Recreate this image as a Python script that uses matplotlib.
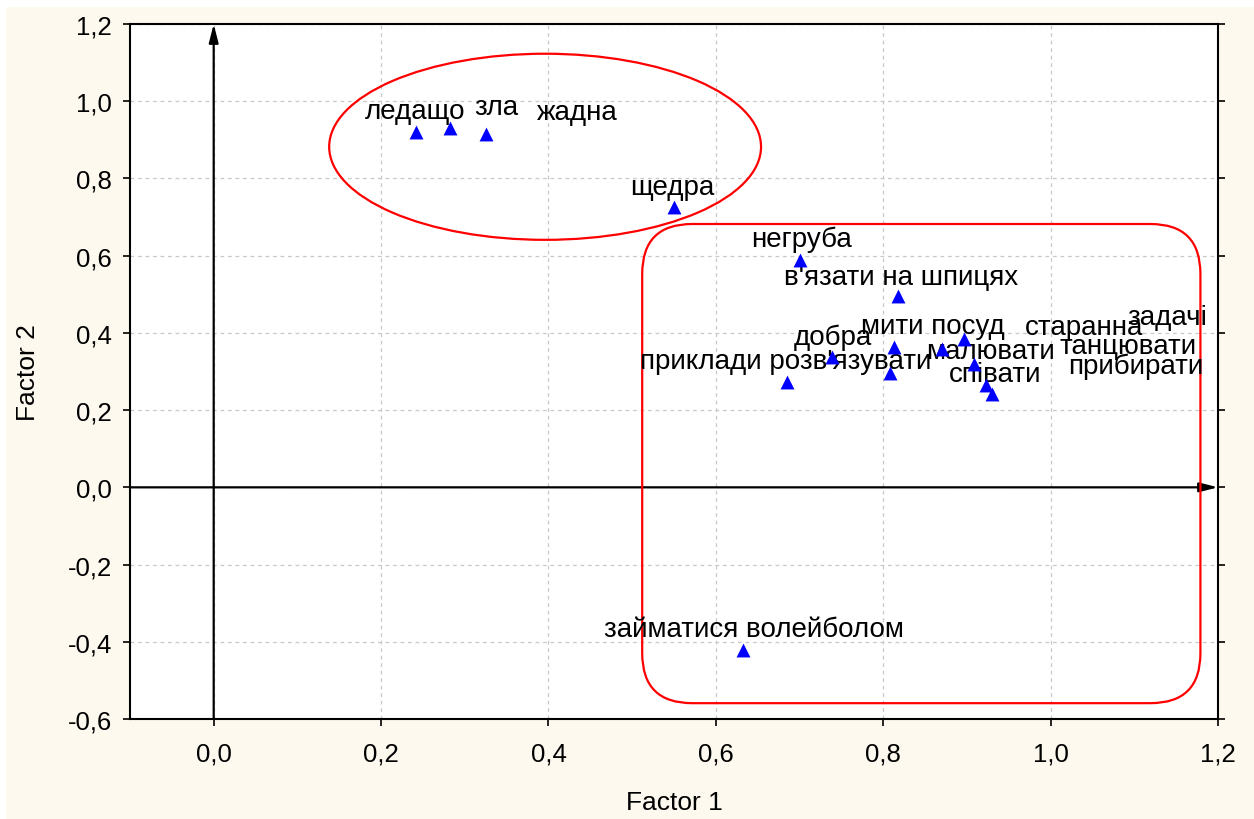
import matplotlib.pyplot as plt
from matplotlib.patches import Ellipse, FancyBboxPatch, Rectangle

plt.rcParams['font.family'] = ['Liberation Sans', 'DejaVu Sans']

# factor loadings (Factor 1, Factor 2) for each item
factor1 = [0.242, 0.282, 0.325, 0.550, 0.700, 0.818, 0.739, 0.813,
           0.685, 0.808, 0.870, 0.896, 0.909, 0.923, 0.930, 0.632]
factor2 = [0.920, 0.930, 0.915, 0.725, 0.590, 0.495, 0.338, 0.364,
           0.273, 0.296, 0.358, 0.384, 0.320, 0.264, 0.243, -0.421]

# labels and where they sit in the chart (data units, centred)
labels = ['ледащо', 'зла', 'жадна', 'щедра', 'негруба', 'в\'язати на шпицях',
          'добра', 'мити посуд', 'приклади розв\'язувати', 'малювати', 'співати',
          'старанна', 'задачі', 'танцювати', 'прибирати', 'займатися волейболом']
label_x = [0.241, 0.338, 0.435, 0.548, 0.702, 0.821, 0.740, 0.859,
           0.684, 0.928, 0.934, 1.040, 1.139, 1.093, 1.102, 0.646]
label_y = [0.975, 0.985, 0.972, 0.778, 0.643, 0.545, 0.390, 0.418,
           0.327, 0.353, 0.294, 0.416, 0.441, 0.366, 0.315, -0.367]

xticks = [0.0, 0.2, 0.4, 0.6, 0.8, 1.0, 1.2]
yticks = [-0.6, -0.4, -0.2, 0.0, 0.2, 0.4, 0.6, 0.8, 1.0, 1.2]

W, H = 1254, 820
fig = plt.figure(figsize=(W / 100, H / 100), dpi=100, facecolor='white')
fig.patches.append(Rectangle((6 / W, 0), 1, 1 - 8 / H, transform=fig.transFigure,
                             facecolor='#fdf9ee', edgecolor='none', zorder=-10))
ax = fig.add_axes([130 / W, 1 - 720 / H, 1088 / W, 695 / H])
ax.set_facecolor('white')
ax.set_xlim(-0.1, 1.2)
ax.set_ylim(-0.6, 1.2)

ax.set_xticks(xticks)
ax.set_yticks(yticks)
ax.set_xticklabels([f'{t:.1f}'.replace('.', ',') for t in xticks])
ax.set_yticklabels([f'{t:.1f}'.replace('.', ',') for t in yticks])
ax.tick_params(labelsize=18.5, length=5, width=1.2, pad=11)
ax.tick_params(axis='y', right=True, pad=8)
ax.grid(True, color='#c8c8c8', linestyle=(0, (3, 3)), linewidth=0.9)
for s in ax.spines.values():
    s.set_linewidth(1.5)
    s.set_color('black')

# axis arrows
ax.annotate('', xy=(1.2, 0), xytext=(-0.1, 0),
            arrowprops=dict(arrowstyle='-|>,head_length=1.1,head_width=0.28',
                            color='black', lw=1.6, shrinkA=0, shrinkB=0))
ax.annotate('', xy=(0, 1.2), xytext=(0, -0.6),
            arrowprops=dict(arrowstyle='-|>,head_length=1.1,head_width=0.28',
                            color='black', lw=1.6, shrinkA=0, shrinkB=0))

# cluster outlines
ax.add_patch(Ellipse((0.396, 0.882), 0.516, 0.482, fill=False,
                     edgecolor='red', lw=1.6, zorder=3))
rx = 50 / 837.5
ax.add_patch(FancyBboxPatch((0.512, -0.559), 1.179 - 0.512, 0.682 + 0.559,
                            boxstyle=f'round,pad=0,rounding_size={rx}',
                            mutation_aspect=837.5 / 386.1,
                            fill=False, edgecolor='red', lw=1.6, zorder=3))

for lab, lx, ly in zip(labels, label_x, label_y):
    ax.text(lx, ly, lab, ha='center', va='center', fontsize=20, zorder=4)

ax.scatter(factor1, factor2, marker='^', s=100, color='blue', zorder=5, linewidths=0)

ax.set_xlabel('Factor 1', fontsize=19, labelpad=18)
ax.set_ylabel('Factor 2', fontsize=19, labelpad=20)

fig.savefig('out.png', dpi=100, facecolor=fig.get_facecolor())
